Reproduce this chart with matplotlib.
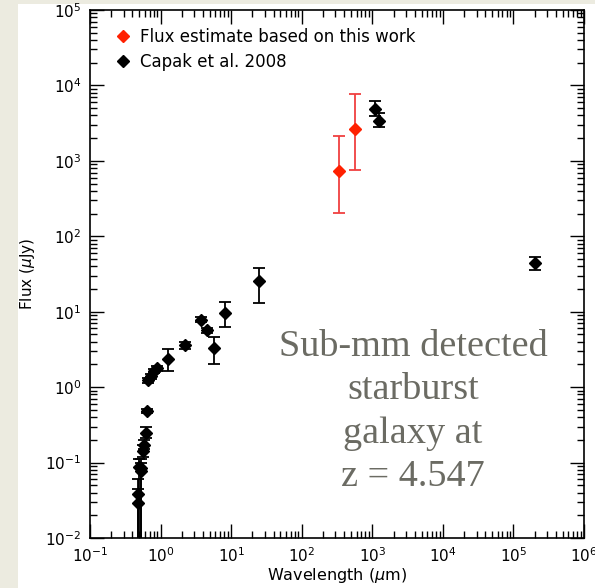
import numpy as np
import matplotlib
matplotlib.use("Agg")
import matplotlib.pyplot as plt
from matplotlib.patches import Rectangle
from matplotlib.lines import Line2D
from matplotlib.ticker import LogLocator, NullFormatter

# Capak et al. 2008 photometry (wavelength in micron, flux in microJy)
capak_wave = [0.48, 0.48, 0.49, 0.52, 0.53, 0.56, 0.59, 0.63, 0.65,
              0.67, 0.72, 0.80, 0.90, 1.27, 2.2, 3.68, 4.5, 5.8, 8.1,
              24.6, 1100, 1250, 2.0e5]
capak_flux = [0.029, 0.038, 0.087, 0.085, 0.077, 0.144, 0.173, 0.247, 0.48,
              1.23, 1.40, 1.63, 1.77, 2.33, 3.58, 7.8, 5.7, 3.33, 9.7,
              25.6, 4900, 3400, 44]
capak_lo = [0.005, 0.005, 0.005, 0.005, 0.005, 0.12, 0.15, 0.21, 0.45,
            1.15, 1.3, 1.55, 1.65, 1.63, 3.2, 7.3, 5.3, 2.04, 6.3,
            12.9, 3900, 2780, 35.8]
capak_hi = [0.045, 0.06, 0.11, 0.11, 0.10, 0.17, 0.20, 0.30, 0.52,
            1.32, 1.5, 1.72, 1.9, 3.17, 3.95, 8.4, 6.1, 4.6, 13.4,
            38.4, 6280, 4265, 53.8]

# flux estimates from this work
work_wave = [341, 561]
work_flux = [723, 2644]
work_lo = [206, 762]
work_hi = [2110, 7710]

fig = plt.figure(figsize=(5.95, 5.88), dpi=100, facecolor="#ecebe0")
fig.patches.append(Rectangle((18 / 595, 0), 1, 1 - 4 / 588, transform=fig.transFigure,
                             facecolor="white", edgecolor="none", zorder=-1))
ax = fig.add_axes([90 / 595, 1 - 538 / 588, 494 / 595, 528 / 588])
ax.set_facecolor("white")

cf = np.array(capak_flux)
cerr = [cf - np.array(capak_lo), np.array(capak_hi) - cf]
wf = np.array(work_flux)
werr = [wf - np.array(work_lo), np.array(work_hi) - wf]

ax.errorbar(work_wave, work_flux, yerr=werr, fmt="D", color="#ff2000", ecolor="#f04040",
            ms=6.5, capsize=4, elinewidth=1.3, capthick=1.3)
ax.errorbar(capak_wave, capak_flux, yerr=cerr, fmt="D", color="black", ecolor="black",
            ms=6.5, capsize=4, elinewidth=1.3, capthick=1.3)

ax.set_xscale("log")
ax.set_yscale("log")
ax.set_xlim(0.1, 1e6)
ax.set_ylim(0.01, 1e5)

for axis in (ax.xaxis, ax.yaxis):
    axis.set_major_locator(LogLocator(base=10, numticks=20))
    axis.set_minor_locator(LogLocator(base=10, subs=np.arange(2, 10), numticks=20))
    axis.set_minor_formatter(NullFormatter())
ax.tick_params(which="both", direction="in", top=True, right=True, width=1.0,
               labelsize=11, pad=6)
ax.tick_params(which="major", length=10)
ax.tick_params(which="minor", length=5)
for s in ax.spines.values():
    s.set_linewidth(1.2)

ax.set_xlabel("Wavelength ($\\mu$m)", fontsize=11.5, labelpad=1)
ax.set_ylabel("Flux ($\\mu$Jy)", fontsize=11, labelpad=6)

handles = [Line2D([], [], ls="none", marker="D", ms=6, color="#ff2000"),
           Line2D([], [], ls="none", marker="D", ms=6, color="black")]
ax.legend(handles, ["Flux estimate based on this work", "Capak et al. 2008"],
          loc="upper left", frameon=False, fontsize=12, handletextpad=0.1,
          handlelength=1.8, borderaxespad=0.7, labelspacing=0.4)

ax.text(0.654, 0.239, "Sub-mm detected\nstarburst\ngalaxy at\nz = 4.547",
        transform=ax.transAxes, ha="center", va="center", color="#6b6b63",
        fontsize=27.5, family="Liberation Serif", linespacing=1.33)

fig.savefig("out.png", dpi=100, facecolor=fig.get_facecolor())
